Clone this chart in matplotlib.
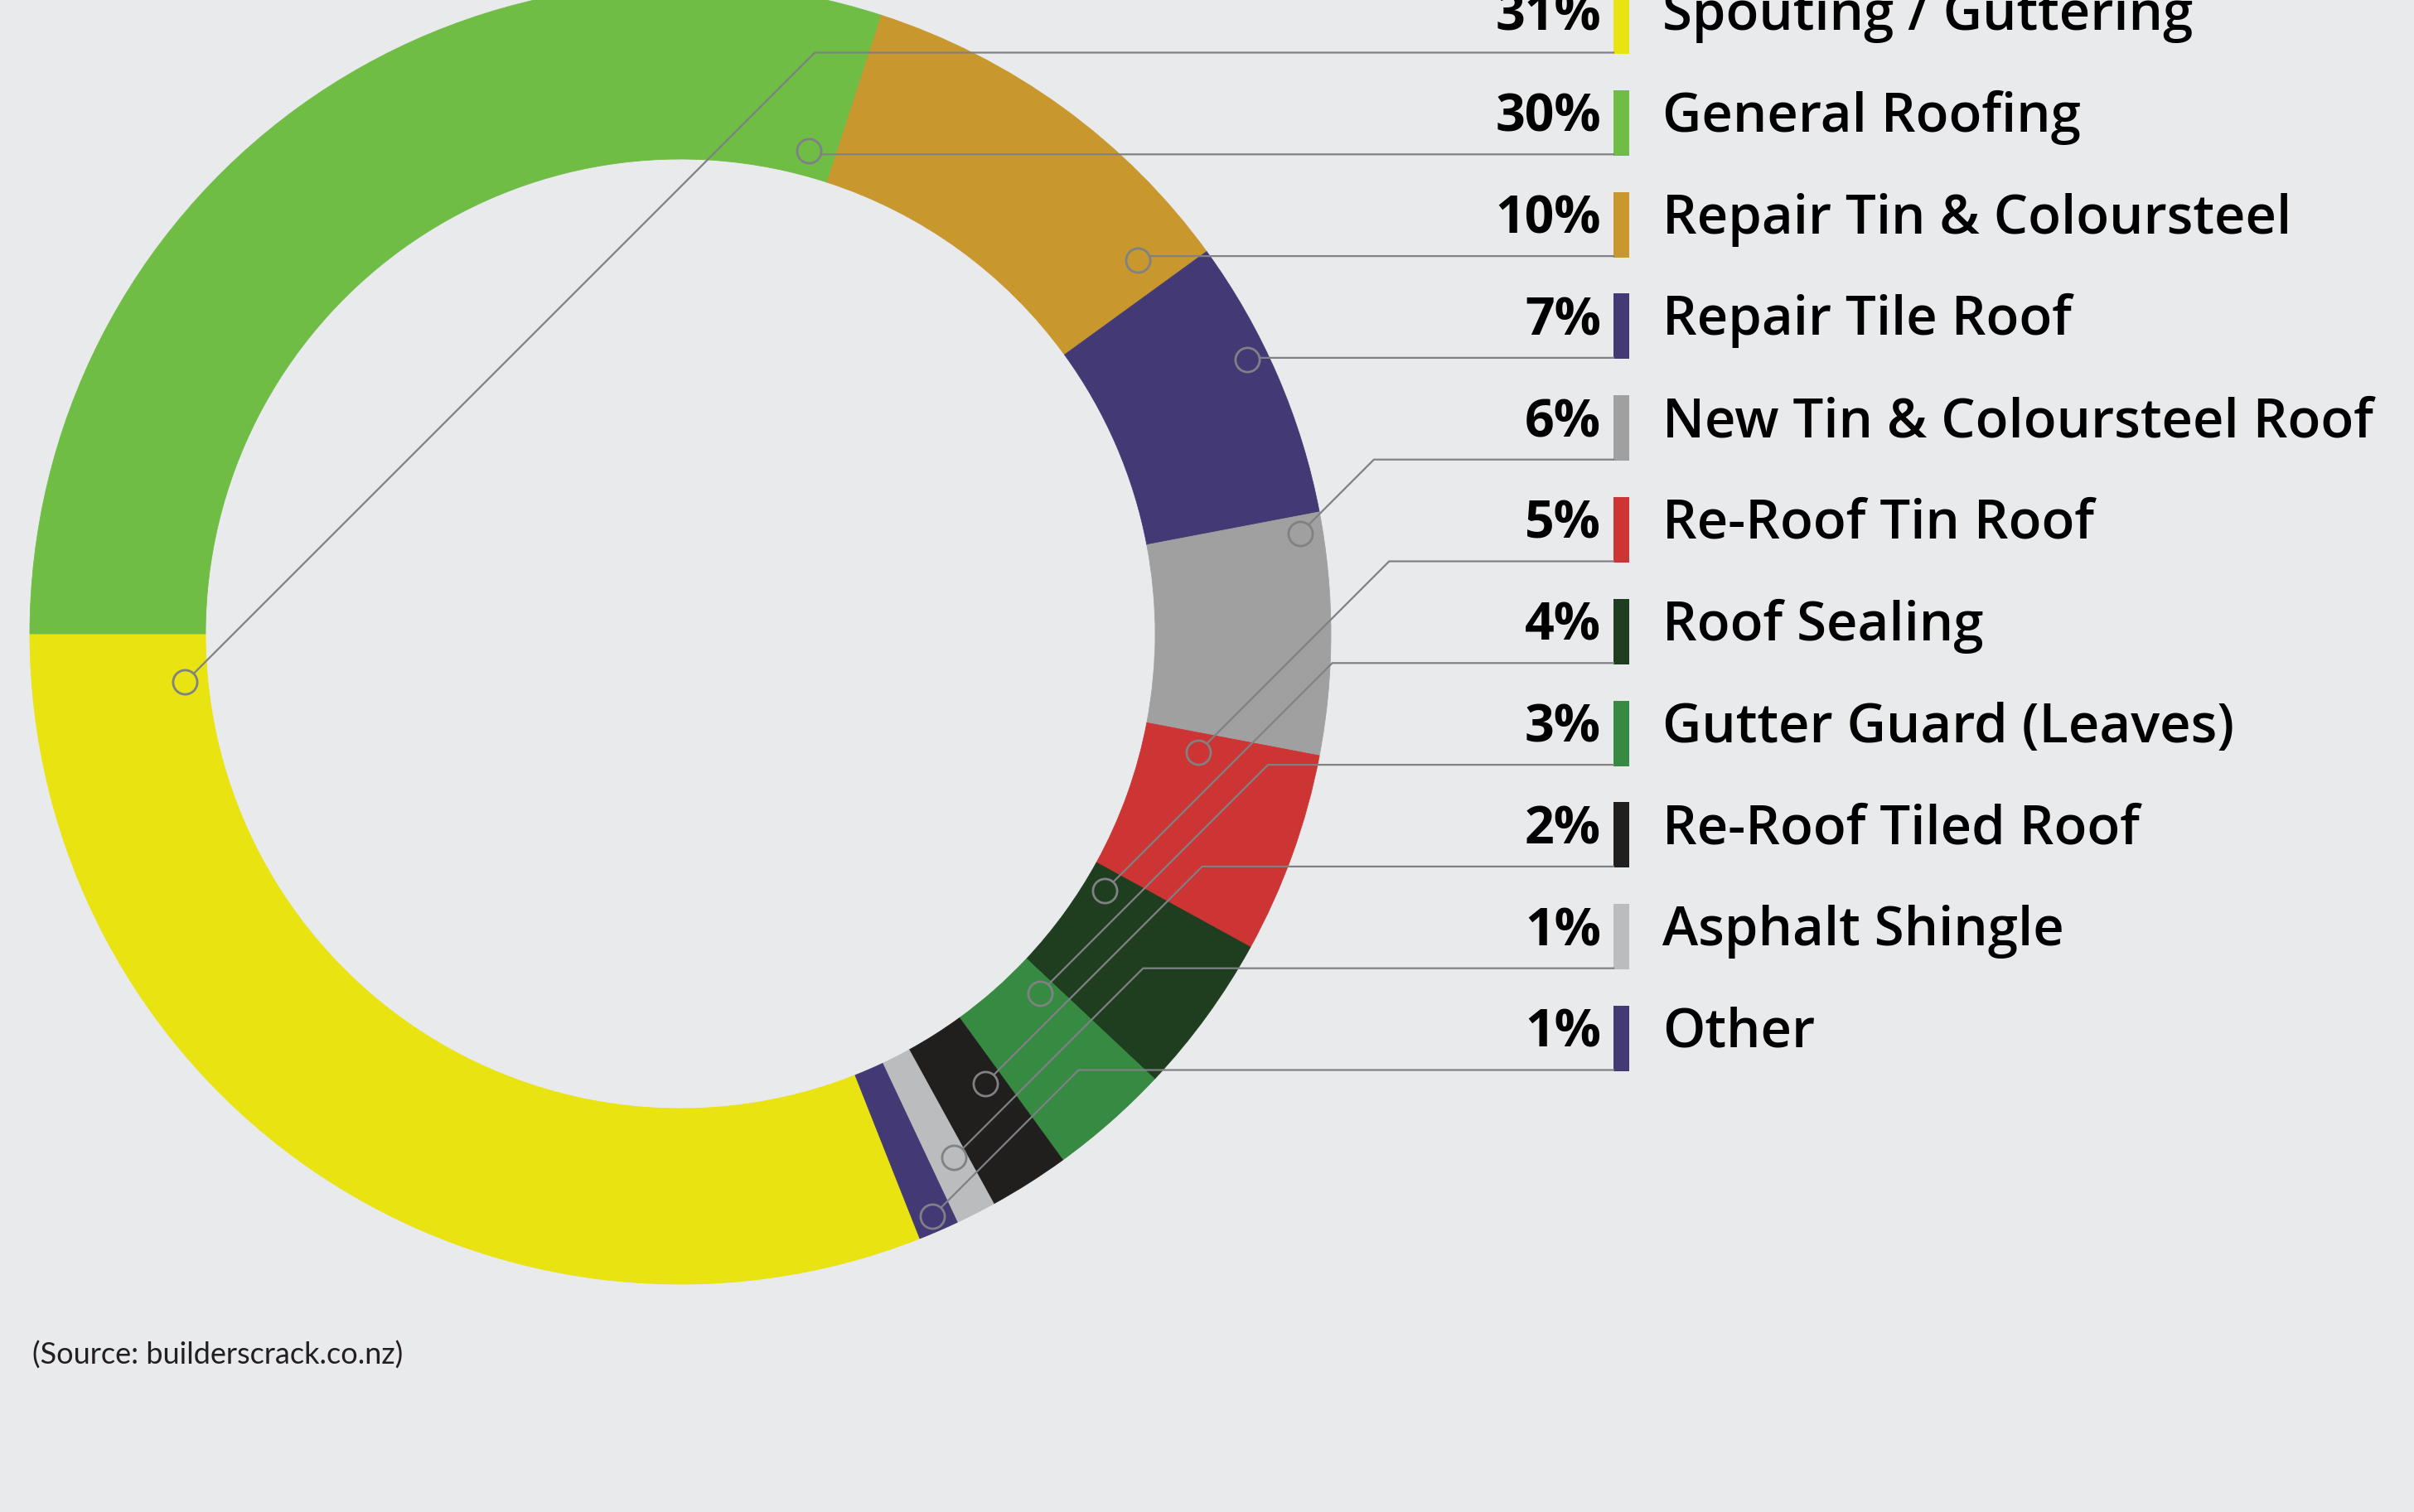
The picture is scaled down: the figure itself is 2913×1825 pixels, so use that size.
import numpy as np
import matplotlib
matplotlib.use("Agg")
import matplotlib.pyplot as plt

# data, in legend order
labels = ["Spouting / Guttering", "General Roofing", "Repair Tin & Coloursteel",
          "Repair Tile Roof", "New Tin & Coloursteel Roof", "Re-Roof Tin Roof",
          "Roof Sealing", "Gutter Guard (Leaves)", "Re-Roof Tiled Roof",
          "Asphalt Shingle", "Other"]
values = [31, 30, 10, 7, 6, 5, 4, 3, 2, 1, 1]
colors = ["#E8E311", "#6FBD45", "#C8972E", "#433975", "#A0A0A0", "#CD3434",
          "#1F3E1F", "#378A42", "#201F1E", "#BBBCBE", "#433975"]

# where each leader dot sits inside its slice (fraction along the slice, fraction across the ring)
dot_along = [0.95, 0.971, 0.911, 0.405, 0.074, 0.117, 0.167, 0.167, 0.264, 0.333, 0.5]
dot_across = [0.13, 0.14, 0.66, 0.88, 0.87, 0.32, 0.12, 0.19, 0.39, 0.66, 0.91]

bg = "#E9EAEC"
line_col = "#808184"
W, H = 2913, 1825
cx, cy = 821, 765
r_out, r_in = 785, 573

plt.rcParams["font.family"] = ["Open Sans", "DejaVu Sans"]

fig = plt.figure(figsize=(W / 100, H / 100), dpi=100, facecolor=bg)
ax = fig.add_axes([0, 0, 1, 1])
ax.set_facecolor(bg)

# y axis runs downward, so counterclockwise here shows clockwise on screen
start = 180 - values[0] / sum(values) * 360
wedges, _ = ax.pie(values, colors=colors, startangle=start, counterclock=True,
                   radius=r_out, center=(cx, cy),
                   wedgeprops=dict(width=r_out - r_in, linewidth=0.6))
for w, c in zip(wedges, colors):
    w.set_edgecolor(c)
ax.set_xlim(0, W)
ax.set_ylim(H, 0)
ax.set_aspect("auto")
ax.axis("off")

row0, step = -14, 122.8
bar_x, bar_w, bar_h = 1947, 19, 79
tops = [row0 + i * step for i in range(len(labels))]

ax.bar([bar_x + bar_w / 2] * len(tops), [bar_h] * len(tops), width=bar_w,
       bottom=tops, color=colors, zorder=3)

for i, w in enumerate(wedges):
    th = np.radians(w.theta1 + dot_along[i] * (w.theta2 - w.theta1))
    r = r_in + dot_across[i] * (r_out - r_in)
    mx, my = cx + r * np.cos(th), cy + r * np.sin(th)
    ly = tops[i] + bar_h - 1.5
    ex = mx + (my - ly)
    ax.plot([mx, ex, bar_x], [my, ly, ly], color=line_col, lw=1.6, zorder=4,
            solid_joinstyle="miter")
    ax.plot(mx, my, "o", ms=21, mfc=colors[i], mec=line_col, mew=2.0, zorder=5)

    base = tops[i] + 50
    ax.text(1932, base, f"{values[i]}%", ha="right", va="baseline",
            fontsize=45, fontweight="bold", color="black")
    ax.text(2006, base, labels[i], ha="left", va="baseline",
            fontsize=47, fontweight="semibold", color="black")

ax.text(39, 1647, "(Source: builderscrack.co.nz)", ha="left", va="baseline",
        fontsize=26, family=["Lato", "DejaVu Sans"], color="#231F20")

fig.savefig("out.png", dpi=100, facecolor=bg)
